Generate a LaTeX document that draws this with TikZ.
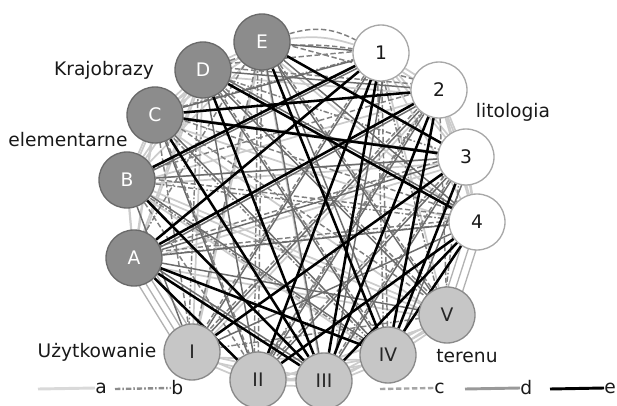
\documentclass[tikz,border=0pt]{standalone}
\usepackage{fontspec}
\setmainfont{DejaVu Sans}
\definecolor{ldark}{HTML}{8C8C8C}
\definecolor{ldarkb}{HTML}{6A6A6A}
\definecolor{ulight}{HTML}{C6C6C6}
\definecolor{ulightb}{HTML}{8A8A8A}
\definecolor{nbord}{HTML}{A8A8A8}
\pgfdeclarelayer{bg}
\pgfsetlayers{bg,main}
\begin{document}
\begin{tikzpicture}[x=0.75pt,y=-0.75pt,font=\fontsize{14}{16}\selectfont,
  basenode/.style={circle,minimum size=42pt,inner sep=0pt,line width=1pt},
  lnode/.style={basenode,fill=ldark,draw=ldarkb,text=white},
  nnode/.style={basenode,fill=white,draw=nbord,text=black!90},
  unode/.style={basenode,fill=ulight,draw=ulightb,text=black!85},
  lab/.style={text=black!90,inner sep=0pt},
  ea/.style={draw=black!20,line width=1.3pt},
  eb/.style={draw=black!50,line width=1.1pt,dash pattern=on 4pt off 1.5pt on 1.2pt off 1.5pt},
  ec/.style={draw=black!50,line width=1.1pt,dash pattern=on 4pt off 2pt},
  ed/.style={draw=black!58,line width=1.1pt},
  ee/.style={draw=black,line width=1.9pt}]
\useasboundingbox (0,0) rectangle (617,406);
% nodes
\node[lnode] (E) at (262,42) {E};
\node[lnode] (D) at (203,70) {D};
\node[lnode] (C) at (155,115) {C};
\node[lnode] (B) at (127,180) {B};
\node[lnode] (A) at (134,258) {A};
\node[nnode] (n1) at (381,53) {1};
\node[nnode] (n2) at (439,90) {2};
\node[nnode] (n3) at (466,157) {3};
\node[nnode] (n4) at (477,222) {4};
\node[unode] (u1) at (192,352) {I};
\node[unode] (u2) at (258,380) {II};
\node[unode] (u3) at (324,381) {III};
\node[unode] (u4) at (388,355) {IV};
\node[unode] (u5) at (447,315) {V};
% labels
\node[lab] (tk) at (104,70) {Krajobrazy};
\node[lab] (te) at (68,140) {elementarne};
\node[lab] (tl) at (513,112) {litologia};
\node[lab] (tu) at (97,352) {Użytkowanie};
\node[lab] (tt) at (467,356) {terenu};
% legend
\node[lab,anchor=west] (la) at (95,388) {a};
\node[lab,anchor=west] (lb) at (171,388) {b};
\node[lab,anchor=west] (lc) at (434,388) {c};
\node[lab,anchor=west] (ld) at (520,388) {d};
\node[lab,anchor=west] (le) at (604,388) {e};
\coordinate (la0) at (38,389);
\coordinate (lb0) at (115,389);
\coordinate (lc0) at (380,389);
\coordinate (ld0) at (465,389);
\coordinate (le0) at (550,389);
\draw[ea,line width=2.2pt,draw=black!15] (la0) -- (la.west);
\draw[eb,line width=1.8pt,draw=black!45] (lb0) -- (lb.west);
\draw[ec,line width=1.8pt,draw=black!35] (lc0) -- (lc.west);
\draw[ed,line width=2.2pt,draw=black!40] (ld0) -- (ld.west);
\draw[ee,line width=2.2pt] (le0) -- (le.west);
\begin{pgfonlayer}{bg}
% light lines
\foreach \s/\t in {B/n3,B/u5,E/u1,A/C,B/D,C/E,A/D,B/E,n1/n3,n2/n4,n1/n4,u1/u3,u2/u4,u3/u5,u1/u4,u2/u5,A/B,B/C,C/D,D/E,n1/n2,n2/n3,n3/n4,u1/u2,u2/u3,u3/u4,u4/u5,A/n3,C/u5,D/u1,B/n2,E/u3,n1/u5,n2/u1,A/u5,C/n4,D/n2,E/n4,u2/u5,B/u4}
  \draw[ea] ([yshift=-4pt]\s.center) -- ([yshift=-4pt]\t.center);
\foreach \s/\t in {B/n3,B/u5,E/u1,A/C,B/D,C/E,A/D,n1/n3,n2/n4,u1/u3,u2/u4,u3/u5,A/B,B/C,C/D,D/E,n1/n2,n2/n3,n3/n4,u1/u2,u2/u3,u3/u4,u4/u5}
  \draw[ea] (\s) -- (\t);
\foreach \sh in {-9,-3,3,9}
  \draw[ea,line width=1pt,draw=black!30] ([xshift=\sh pt]A.center) -- ([xshift=\sh pt]u1.center);
\foreach \sh in {-6,0,6}
  \draw[ea,line width=1pt,draw=black!30] ([xshift=\sh pt]n4.center) -- ([xshift=\sh pt]u5.center);
\draw[ea] (E) to[bend left=12] (n1);
\draw[ec] (E) to[bend left=22] (n1);
\draw[ec] (D) to[bend left=14] (n1);
% dash-dot
\foreach \s/\t in {B/n4,D/n3,B/u4,C/u4,D/u1,n1/u5,n3/u5,A/E,n1/u4,u1/u5,C/n1,A/n4,E/u2,n2/u2}
  \draw[eb] ([xshift=-3pt]\s.center) -- ([xshift=-3pt]\t.center);
% dashed
\foreach \s/\t in {B/n2,C/n4,D/n1,E/n2,B/u2,C/u1,C/u5,D/u4,E/u2,E/u5,n1/u4,n2/u1,n2/u5,n3/u2,A/n4,D/u5,B/n4,n2/u2,E/u1,A/n3,C/u2,D/n2,n3/u3,n1/u1}
  \draw[ec] ([yshift=3pt]\s.center) -- ([yshift=3pt]\t.center);
% grey
\foreach \s/\t in {A/n3,A/n4,C/n1,D/n2,E/n4,A/u5,B/u1,C/u2,D/u2,D/u5,E/u3,n1/u1,n2/u2,n3/u3,n4/u1,B/n3,E/n1,C/u4,B/u4,D/u4,n2/u1,n3/u2,E/u5}
  \draw[ed] (\s) -- (\t);
\foreach \s/\t in {A/n2,C/n3,D/n4,E/u4,n1/u3,n3/u4,A/u3,B/n1}
  \draw[ed] ([xshift=5pt]\s.center) -- ([xshift=5pt]\t.center);
% black
\foreach \s/\t in {A/n1,A/n2,B/n1,C/n2,C/n3,D/n4,E/n3,A/u2,A/u3,A/u4,B/u3,C/u3,D/u3,E/u4,n1/u2,n1/u3,n2/u3,n2/u4,n3/u1,n3/u4,n4/u2,n4/u3,n4/u4}
  \draw[ee] (\s) -- (\t);
\end{pgfonlayer}
\end{tikzpicture}
\end{document}
